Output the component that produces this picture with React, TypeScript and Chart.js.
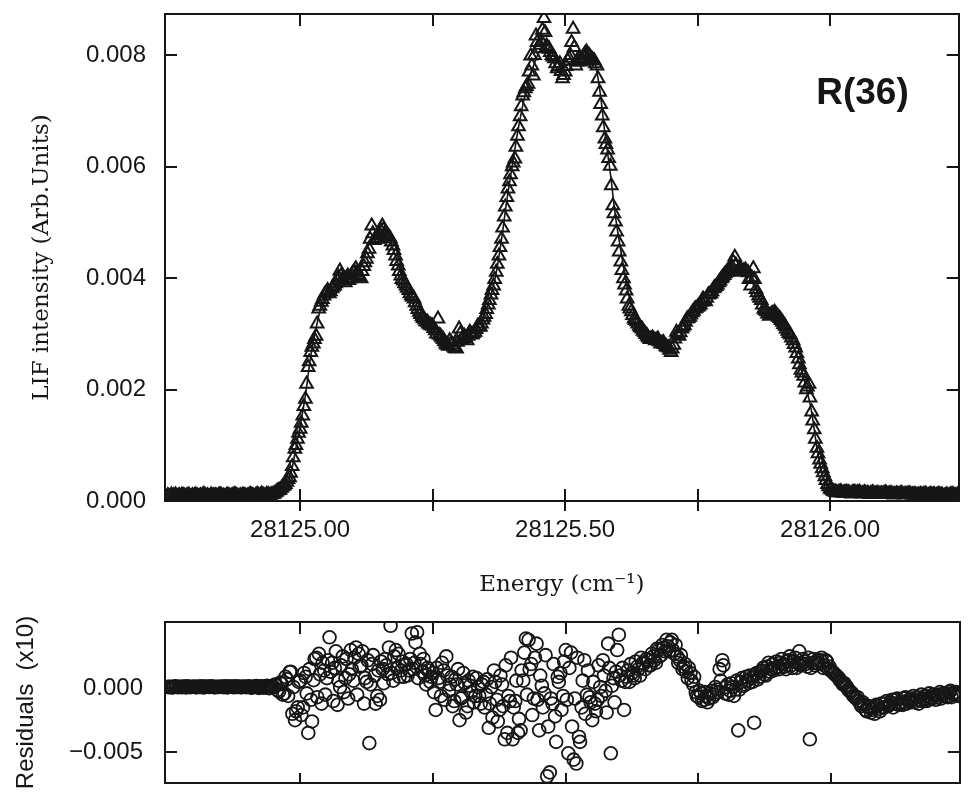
import React, { useEffect, useRef } from 'react';
import { Chart, registerables } from 'chart.js';

Chart.register(...registerables);

// ---------------- data (two scans, A and B, B read slightly above A) ----------------
const ENERGY_A = [
  28124.750, 28124.755, 28124.760, 28124.765, 28124.770, 28124.775, 28124.780, 28124.785, 28124.790, 28124.795,
  28124.800, 28124.805, 28124.810, 28124.815, 28124.820, 28124.825, 28124.830, 28124.835, 28124.840, 28124.845,
  28124.850, 28124.855, 28124.860, 28124.865, 28124.870, 28124.875, 28124.880, 28124.885, 28124.890, 28124.895,
  28124.900, 28124.905, 28124.910, 28124.915, 28124.920, 28124.925, 28124.930, 28124.935, 28124.940, 28124.945,
  28124.950, 28124.955, 28124.960, 28124.965, 28124.970, 28124.975, 28124.980, 28124.985, 28124.990, 28124.995,
  28125.000, 28125.005, 28125.010, 28125.015, 28125.020, 28125.025, 28125.030, 28125.035, 28125.040, 28125.045,
  28125.050, 28125.055, 28125.060, 28125.065, 28125.070, 28125.075, 28125.080, 28125.085, 28125.090, 28125.095,
  28125.100, 28125.105, 28125.110, 28125.115, 28125.120, 28125.125, 28125.130, 28125.135, 28125.140, 28125.145,
  28125.150, 28125.155, 28125.160, 28125.165, 28125.170, 28125.175, 28125.180, 28125.185, 28125.190, 28125.195,
  28125.200, 28125.205, 28125.210, 28125.215, 28125.220, 28125.225, 28125.230, 28125.235, 28125.240, 28125.245,
  28125.250, 28125.255, 28125.260, 28125.265, 28125.270, 28125.275, 28125.280, 28125.285, 28125.290, 28125.295,
  28125.300, 28125.305, 28125.310, 28125.315, 28125.320, 28125.325, 28125.330, 28125.335, 28125.340, 28125.345,
  28125.350, 28125.355, 28125.360, 28125.365, 28125.370, 28125.375, 28125.380, 28125.385, 28125.390, 28125.395,
  28125.400, 28125.405, 28125.410, 28125.415, 28125.420, 28125.425, 28125.430, 28125.435, 28125.440, 28125.445,
  28125.450, 28125.455, 28125.460, 28125.465, 28125.470, 28125.475, 28125.480, 28125.485, 28125.490, 28125.495,
  28125.500, 28125.505, 28125.510, 28125.515, 28125.520, 28125.525, 28125.530, 28125.535, 28125.540, 28125.545,
  28125.550, 28125.555, 28125.560, 28125.565, 28125.570, 28125.575, 28125.580, 28125.585, 28125.590, 28125.595,
  28125.600, 28125.605, 28125.610, 28125.615, 28125.620, 28125.625, 28125.630, 28125.635, 28125.640, 28125.645,
  28125.650, 28125.655, 28125.660, 28125.665, 28125.670, 28125.675, 28125.680, 28125.685, 28125.690, 28125.695,
  28125.700, 28125.705, 28125.710, 28125.715, 28125.720, 28125.725, 28125.730, 28125.735, 28125.740, 28125.745,
  28125.750, 28125.755, 28125.760, 28125.765, 28125.770, 28125.775, 28125.780, 28125.785, 28125.790, 28125.795,
  28125.800, 28125.805, 28125.810, 28125.815, 28125.820, 28125.825, 28125.830, 28125.835, 28125.840, 28125.845,
  28125.850, 28125.855, 28125.860, 28125.865, 28125.870, 28125.875, 28125.880, 28125.885, 28125.890, 28125.895,
  28125.900, 28125.905, 28125.910, 28125.915, 28125.920, 28125.925, 28125.930, 28125.935, 28125.940, 28125.945,
  28125.950, 28125.955, 28125.960, 28125.965, 28125.970, 28125.975, 28125.980, 28125.985, 28125.990, 28125.995,
  28126.000, 28126.005, 28126.010, 28126.015, 28126.020, 28126.025, 28126.030, 28126.035, 28126.040, 28126.045,
  28126.050, 28126.055, 28126.060, 28126.065, 28126.070, 28126.075, 28126.080, 28126.085, 28126.090, 28126.095,
  28126.100, 28126.105, 28126.110, 28126.115, 28126.120, 28126.125, 28126.130, 28126.135, 28126.140, 28126.145,
  28126.150, 28126.155, 28126.160, 28126.165, 28126.170, 28126.175, 28126.180, 28126.185, 28126.190, 28126.195,
  28126.200, 28126.205, 28126.210, 28126.215, 28126.220, 28126.225, 28126.230, 28126.235, 28126.240,
];

const SIGNAL_A = [
  .00010, .00008, .00009, .00011, .00009, .00008, .00010, .00009, .00011, .00008,
  .00009, .00010, .00008, .00009, .00011, .00010, .00008, .00009, .00010, .00009,
  .00011, .00009, .00008, .00010, .00009, .00011, .00010, .00008, .00009, .00010,
  .00009, .00011, .00010, .00009, .00012, .00010, .00011, .00009, .00012, .00011,
  .00012, .00016, .00019, .00023, .00027, .00034, .00042, .00062, .00093, .00111,
  .00129, .00153, .00183, .00240, .00267, .00282, .00296, .00345, .00357, .00368,
  .00375, .00372, .00381, .00386, .00395, .00413, .00398, .00392, .00404, .00399,
  .00410, .00417, .00405, .00399, .00421, .00434, .00452, .00494, .00468, .00470,
  .00478, .00494, .00480, .00476, .00471, .00458, .00440, .00422, .00404, .00395,
  .00386, .00378, .00368, .00363, .00350, .00339, .00331, .00325, .00321, .00316,
  .00314, .00306, .00327, .00296, .00290, .00282, .00278, .00284, .00276, .00273,
  .00309, .00290, .00296, .00288, .00303, .00298, .00303, .00314, .00312, .00325,
  .00335, .00352, .00370, .00386, .00411, .00440, .00470, .00510, .00545, .00573,
  .00600, .00614, .00655, .00690, .00727, .00740, .00748, .00799, .00763, .00835,
  .00812, .00825, .00866, .00817, .00811, .00800, .00794, .00776, .00785, .00758,
  .00770, .00790, .00800, .00847, .00781, .00795, .00788, .00799, .00806, .00800,
  .00794, .00790, .00781, .00734, .00691, .00650, .00630, .00601, .00530, .00501,
  .00465, .00429, .00399, .00377, .00350, .00340, .00327, .00322, .00314, .00309,
  .00302, .00296, .00290, .00293, .00288, .00291, .00282, .00285, .00278, .00275,
  .00267, .00280, .00303, .00296, .00309, .00315, .00327, .00330, .00338, .00345,
  .00348, .00352, .00363, .00358, .00370, .00372, .00381, .00385, .00392, .00399,
  .00405, .00411, .00415, .00420, .00438, .00411, .00418, .00412, .00415, .00410,
  .00386, .00417, .00380, .00368, .00360, .00345, .00340, .00332, .00336, .00339,
  .00333, .00328, .00321, .00314, .00305, .00298, .00288, .00275, .00255, .00235,
  .00224, .00200, .00210, .00160, .00128, .00095, .00074, .00058, .00044, .00030,
  .00022, .00018, .00016, .00015, .00017, .00014, .00016, .00015, .00013, .00016,
  .00014, .00016, .00013, .00015, .00014, .00012, .00015, .00013, .00014, .00012,
  .00013, .00015, .00012, .00014, .00011, .00013, .00012, .00014, .00011, .00012,
  .00013, .00011, .00012, .00010, .00012, .00011, .00013, .00010, .00012, .00011,
  .00010, .00012, .00011, .00009, .00011, .00010, .00012, .00010, .00011,
];

const RESIDUAL_A = [
  .00010, .00012, .00008, .00015, .00009, .00011, .00014, .00007, .00012, .00010,
  .00013, .00008, .00011, .00016, .00009, .00012, .00010, .00014, .00008, .00011,
  .00012, .00009, .00015, .00010, .00013, .00008, .00011, .00014, .00009, .00012,
  .00010, .00014, .00006, .00013, .00008, .00016, .00004, .00012, .00002, .00015,
  .00010, .00022, -.00025, .00035, -.00040, .00070, .00128, -.00200, -.00250, -.00150,
  .00060, -.00150, .00090, -.00350, -.00090, .00064, .00240, .00270, -.00120, .00140,
  .00080, .00400, .00200, .00160, -.00130, .00010, .00250, .00080, -.00080, .00300,
  .00060, .00320, .00270, .00180, -.00120, .00050, -.00430, .00190, .00100, -.00060,
  -.00090, .00150, .00230, .00110, .00490, .00060, .00300, .00270, .00140, .00090,
  .00190, .00140, .00430, .00200, .00440, .00270, .00130, .00100, .00160, .00050,
  .00120, -.00170, .00080, -.00060, .00140, .00250, -.00020, .00090, -.00100, .00030,
  -.00250, -.00070, .00040, -.00140, .00020, .00090, -.00060, .00010, -.00120, .00050,
  -.00050, -.00310, .00010, .00140, -.00090, -.00170, .00030, -.00400, -.00350, -.00100,
  -.00400, -.00100, -.00350, -.00330, .00060, .00390, .00380, .00190, -.00080, .00350,
  -.00330, .00020, -.00040, -.00690, -.00660, -.00120, -.00220, .00090, .00120, -.00060,
  .00300, -.00510, .00280, -.00560, -.00590, -.00380, -.00150, .00220, -.00050, -.00070,
  -.00250, -.00120, -.00090, .00010, .00220, -.00020, .00350, -.00510, .00080, .00130,
  .00420, .00060, -.00170, .00090, .00050, .00120, .00080, .00170, .00100, .00200,
  .00150, .00220, .00180, .00250, .00200, .00300, .00260, .00320, .00380, .00290,
  .00380, .00270, .00250, .00220, .00150, .00190, .00080, .00120, .00030, -.00030,
  -.00070, -.00040, -.00090, -.00060, -.00080, -.00020, -.00050, -.00010, .00150, .00220,
  -.00040, .00030, -.00020, .00010, -.00010, -.00330, .00050, .00020, .00090, .00040,
  .00080, -.00270, .00120, .00090, .00140, .00110, .00170, .00130, .00190, .00160,
  .00170, .00200, .00190, .00150, .00220, .00180, .00210, .00160, .00290, .00190,
  .00210, .00170, -.00400, .00200, .00180, .00220, .00220, .00160, .00220, .00150,
  .00140, .00120, .00100, .00080, .00050, .00040, .00010, -.00020, -.00040, -.00070,
  -.00070, -.00120, -.00110, -.00170, -.00140, -.00190, -.00150, -.00130, -.00160, -.00120,
  -.00150, -.00100, -.00130, -.00090, -.00120, -.00080, -.00110, -.00130, -.00070, -.00100,
  -.00110, -.00060, -.00090, -.00120, -.00050, -.00080, -.00100, -.00040, -.00080, -.00060,
  -.00070, -.00030, -.00060, -.00040, -.00070, -.00020, -.00050, -.00030, -.00060,
];

const ENERGY_B = [
  28124.752, 28124.757, 28124.762, 28124.767, 28124.772, 28124.777, 28124.782, 28124.787, 28124.792, 28124.797,
  28124.802, 28124.807, 28124.812, 28124.817, 28124.822, 28124.827, 28124.832, 28124.837, 28124.842, 28124.847,
  28124.852, 28124.857, 28124.862, 28124.867, 28124.872, 28124.877, 28124.882, 28124.887, 28124.892, 28124.897,
  28124.902, 28124.907, 28124.912, 28124.917, 28124.922, 28124.927, 28124.932, 28124.937, 28124.942, 28124.947,
  28124.952, 28124.957, 28124.962, 28124.967, 28124.972, 28124.977, 28124.982, 28124.987, 28124.992, 28124.997,
  28125.002, 28125.007, 28125.012, 28125.017, 28125.022, 28125.027, 28125.032, 28125.037, 28125.042, 28125.047,
  28125.052, 28125.057, 28125.062, 28125.067, 28125.072, 28125.077, 28125.082, 28125.087, 28125.092, 28125.097,
  28125.102, 28125.107, 28125.112, 28125.117, 28125.122, 28125.127, 28125.132, 28125.137, 28125.142, 28125.147,
  28125.152, 28125.157, 28125.162, 28125.167, 28125.172, 28125.177, 28125.182, 28125.187, 28125.192, 28125.197,
  28125.202, 28125.207, 28125.212, 28125.217, 28125.222, 28125.227, 28125.232, 28125.237, 28125.242, 28125.247,
  28125.252, 28125.257, 28125.262, 28125.267, 28125.272, 28125.277, 28125.282, 28125.287, 28125.292, 28125.297,
  28125.302, 28125.307, 28125.312, 28125.317, 28125.322, 28125.327, 28125.332, 28125.337, 28125.342, 28125.347,
  28125.352, 28125.357, 28125.362, 28125.367, 28125.372, 28125.377, 28125.382, 28125.387, 28125.392, 28125.397,
  28125.402, 28125.407, 28125.412, 28125.417, 28125.422, 28125.427, 28125.432, 28125.437, 28125.442, 28125.447,
  28125.452, 28125.457, 28125.462, 28125.467, 28125.472, 28125.477, 28125.482, 28125.487, 28125.492, 28125.497,
  28125.502, 28125.507, 28125.512, 28125.517, 28125.522, 28125.527, 28125.532, 28125.537, 28125.542, 28125.547,
  28125.552, 28125.557, 28125.562, 28125.567, 28125.572, 28125.577, 28125.582, 28125.587, 28125.592, 28125.597,
  28125.602, 28125.607, 28125.612, 28125.617, 28125.622, 28125.627, 28125.632, 28125.637, 28125.642, 28125.647,
  28125.652, 28125.657, 28125.662, 28125.667, 28125.672, 28125.677, 28125.682, 28125.687, 28125.692, 28125.697,
  28125.702, 28125.707, 28125.712, 28125.717, 28125.722, 28125.727, 28125.732, 28125.737, 28125.742, 28125.747,
  28125.752, 28125.757, 28125.762, 28125.767, 28125.772, 28125.777, 28125.782, 28125.787, 28125.792, 28125.797,
  28125.802, 28125.807, 28125.812, 28125.817, 28125.822, 28125.827, 28125.832, 28125.837, 28125.842, 28125.847,
  28125.852, 28125.857, 28125.862, 28125.867, 28125.872, 28125.877, 28125.882, 28125.887, 28125.892, 28125.897,
  28125.902, 28125.907, 28125.912, 28125.917, 28125.922, 28125.927, 28125.932, 28125.937, 28125.942, 28125.947,
  28125.952, 28125.957, 28125.962, 28125.967, 28125.972, 28125.977, 28125.982, 28125.987, 28125.992, 28125.997,
  28126.002, 28126.007, 28126.012, 28126.017, 28126.022, 28126.027, 28126.032, 28126.037, 28126.042, 28126.047,
  28126.052, 28126.057, 28126.062, 28126.067, 28126.072, 28126.077, 28126.082, 28126.087, 28126.092, 28126.097,
  28126.102, 28126.107, 28126.112, 28126.117, 28126.122, 28126.127, 28126.132, 28126.137, 28126.142, 28126.147,
  28126.152, 28126.157, 28126.162, 28126.167, 28126.172, 28126.177, 28126.182, 28126.187, 28126.192, 28126.197,
  28126.202, 28126.207, 28126.212, 28126.217, 28126.222, 28126.227, 28126.232, 28126.237,
];

const SIGNAL_B = [
  .00009, .00011, .00010, .00008, .00010, .00011, .00009, .00010, .00008, .00010,
  .00011, .00009, .00010, .00012, .00009, .00008, .00011, .00010, .00009, .00011,
  .00010, .00008, .00011, .00009, .00010, .00012, .00009, .00010, .00011, .00009,
  .00010, .00012, .00009, .00011, .00010, .00013, .00010, .00012, .00010, .00012,
  .00014, .00018, .00020, .00026, .00030, .00039, .00050, .00078, .00100, .00122,
  .00140, .00170, .00210, .00250, .00276, .00290, .00318, .00350, .00362, .00372,
  .00378, .00376, .00384, .00390, .00402, .00404, .00395, .00400, .00396, .00406,
  .00412, .00409, .00402, .00412, .00428, .00444, .00470, .00480, .00472, .00476,
  .00486, .00487, .00478, .00475, .00465, .00450, .00430, .00412, .00398, .00390,
  .00382, .00372, .00366, .00356, .00344, .00335, .00328, .00322, .00318, .00315,
  .00310, .00300, .00298, .00293, .00286, .00280, .00288, .00280, .00274, .00285,
  .00300, .00293, .00292, .00296, .00300, .00301, .00308, .00313, .00318, .00330,
  .00344, .00360, .00378, .00398, .00425, .00455, .00490, .00528, .00560, .00586,
  .00607, .00635, .00672, .00708, .00733, .00744, .00770, .00781, .00800, .00823,
  .00818, .00845, .00841, .00814, .00805, .00797, .00785, .00780, .00771, .00764,
  .00780, .00795, .00823, .00814, .00788, .00791, .00793, .00802, .00803, .00797,
  .00792, .00785, .00758, .00712, .00670, .00640, .00615, .00566, .00516, .00483,
  .00447, .00414, .00388, .00363, .00345, .00333, .00324, .00318, .00311, .00305,
  .00299, .00293, .00291, .00290, .00289, .00286, .00283, .00281, .00276, .00271,
  .00273, .00291, .00299, .00302, .00312, .00321, .00328, .00334, .00341, .00346,
  .00350, .00357, .00360, .00364, .00371, .00376, .00383, .00388, .00395, .00402,
  .00408, .00413, .00417, .00429, .00424, .00414, .00415, .00413, .00412, .00398,
  .00401, .00398, .00374, .00364, .00352, .00342, .00336, .00334, .00337, .00336,
  .00330, .00324, .00317, .00309, .00301, .00293, .00281, .00265, .00245, .00230,
  .00212, .00205, .00185, .00144, .00111, .00085, .00066, .00051, .00037, .00026,
  .00020, .00017, .00015, .00016, .00015, .00015, .00015, .00014, .00015, .00015,
  .00015, .00014, .00014, .00014, .00013, .00014, .00014, .00013, .00013, .00013,
  .00014, .00013, .00013, .00012, .00012, .00012, .00013, .00012, .00012, .00013,
  .00012, .00011, .00011, .00011, .00011, .00012, .00011, .00011, .00011, .00011,
  .00011, .00011, .00010, .00010, .00010, .00011, .00011, .00010,
];

const RESIDUAL_B = [
  .00011, .00006, .00013, .00010, .00012, .00008, .00011, .00015, .00009, .00012,
  .00009, .00014, .00010, .00007, .00013, .00011, .00016, .00009, .00012, .00010,
  .00014, .00011, .00007, .00013, .00010, .00015, .00012, .00008, .00013, .00009,
  .00016, .00005, .00012, .00018, .00003, .00014, .00009, .00020, .00001, .00011,
  .00030, -.00015, .00045, -.00050, .00090, -.00060, .00130, .00010, -.00180, .00050,
  -.00210, .00120, -.00040, .00150, -.00260, .00230, -.00070, .00110, .00200, -.00050,
  .00220, .00130, -.00100, .00290, .00060, .00180, -.00030, .00230, .00110, .00150,
  .00240, -.00050, .00170, .00290, .00080, .00220, .00030, .00260, -.00120, .00140,
  .00210, .00040, .00180, .00320, .00120, .00250, .00160, .00090, .00210, .00180,
  .00100, .00230, .00150, .00360, .00080, .00190, .00230, .00030, .00140, .00090,
  -.00030, .00160, .00050, .00200, -.00090, .00100, .00030, -.00140, .00070, .00150,
  -.00080, .00120, -.00190, .00060, -.00030, -.00110, .00080, -.00060, .00030, -.00150,
  .00070, -.00120, -.00230, .00050, -.00260, .00100, -.00140, .00180, -.00060, .00240,
  -.00150, .00060, -.00240, .00140, .00280, -.00050, .00150, -.00210, .00240, -.00090,
  .00100, -.00150, .00260, -.00300, -.00080, .00190, -.00420, .00050, -.00170, .00210,
  -.00090, .00160, -.00300, -.00080, .00240, -.00420, .00060, -.00200, .00140, -.00110,
  .00050, -.00180, .00180, -.00060, .00100, -.00190, .00160, .00020, -.00110, .00300,
  .00100, .00160, .00050, .00140, .00190, .00100, .00210, .00150, .00240, .00190,
  .00230, .00180, .00270, .00220, .00310, .00250, .00340, .00290, .00330, .00360,
  .00300, .00340, .00200, .00260, .00170, .00130, .00160, .00060, .00090, -.00060,
  -.00020, -.00100, -.00030, -.00110, -.00040, -.00070, .00010, -.00030, .00060, .00180,
  .00010, -.00050, .00040, -.00060, .00060, -.00010, .00080, .00030, .00060, .00100,
  .00050, .00110, .00070, .00130, .00160, .00100, .00200, .00150, .00140, .00210,
  .00150, .00230, .00170, .00210, .00250, .00160, .00240, .00200, .00180, .00230,
  .00190, .00240, .00160, .00230, .00200, .00190, .00240, .00180, .00210, .00170,
  .00130, .00110, .00090, .00060, .00030, .00020, -.00010, -.00030, -.00060, -.00080,
  -.00100, -.00140, -.00130, -.00180, -.00150, -.00170, -.00200, -.00140, -.00180, -.00150,
  -.00120, -.00140, -.00110, -.00150, -.00090, -.00130, -.00120, -.00080, -.00120, -.00090,
  -.00080, -.00110, -.00070, -.00090, -.00100, -.00060, -.00090, -.00070, -.00050, -.00090,
  -.00050, -.00080, -.00040, -.00060, -.00030, -.00070, -.00040, -.00050,
];

const FIT_ENERGY = [
  28124.750, 28124.940, 28124.955, 28124.970, 28124.980, 28124.985, 28124.990, 28124.995,
  28125.000, 28125.010, 28125.020, 28125.030, 28125.040, 28125.050, 28125.070, 28125.090,
  28125.110, 28125.130, 28125.150, 28125.165, 28125.180, 28125.200, 28125.220, 28125.240,
  28125.260, 28125.280, 28125.300, 28125.320, 28125.340, 28125.360, 28125.370, 28125.380,
  28125.390, 28125.400, 28125.410, 28125.420, 28125.430, 28125.440, 28125.455, 28125.470,
  28125.490, 28125.500, 28125.520, 28125.540, 28125.555, 28125.565, 28125.575, 28125.585,
  28125.595, 28125.605, 28125.620, 28125.640, 28125.660, 28125.690, 28125.710, 28125.730,
  28125.760, 28125.790, 28125.820, 28125.840, 28125.860, 28125.880, 28125.910, 28125.930,
  28125.950, 28125.965, 28125.975, 28125.985, 28125.995, 28126.010, 28126.240,
];
const FIT_SIGNAL = [
  .00010, .00010, .00015, .00028, .00045, .00060, .00085, .00110,
  .00135, .00190, .00260, .00310, .00350, .00370, .00390, .00400,
  .00420, .00460, .00480, .00475, .00440, .00380, .00340, .00310,
  .00290, .00280, .00290, .00300, .00320, .00370, .00410, .00470,
  .00540, .00600, .00660, .00710, .00750, .00780, .00810, .00800,
  .00770, .00780, .00790, .00800, .00790, .00740, .00660, .00590,
  .00510, .00450, .00370, .00320, .00290, .00280, .00290, .00310,
  .00350, .00390, .00420, .00410, .00380, .00340, .00320, .00280,
  .00220, .00160, .00095, .00050, .00025, .00016, .00012,
];

const X_TICKS = [28125.0, 28125.25, 28125.5, 28125.75, 28126.0];
const X_LABELED = [28125.0, 28125.5, 28126.0];
const Y_TICKS = [0, 0.002, 0.004, 0.006, 0.008];
const RES_TICKS = [-0.005, 0];
const X_RANGE = [28124.745, 28126.2425];
const Y_RANGE = [0, 0.00874];
const RES_RANGE = [-0.00743, 0.0052];
const LINE_LABEL = 'R(36)';
const LINE_LABEL_AT = [28126.061, 0.00730];
const Y_TITLE = 'LIF intensity (Arb.Units)';
const X_TITLE = 'Energy (cm\u207B\u00B9)';
const RES_TITLE = 'Residuals  (x10)';

// ---------------- styling ----------------
const INK = '#161616';
const SANS = "'Liberation Sans', Arial, Helvetica, sans-serif";
const SERIF = "'DejaVu Serif', 'Liberation Serif', serif";
const TICK_FONT = { family: SANS, size: 24 };

function fixedTicks(values: number[]) {
  return (scale: any) => {
    scale.ticks = values.map((v) => ({ value: v }));
  };
}
function fixSize(dim: 'width' | 'height', px: number) {
  return (scale: any) => {
    scale[dim] = px;
    scale.paddingTop = 0;
    scale.paddingBottom = 0;
    scale.paddingLeft = 0;
    scale.paddingRight = 0;
  };
}
function frameAxis(extra: any) {
  return {
    type: 'linear',
    ticks: { display: false },
    grid: { drawOnChartArea: false, color: INK, lineWidth: 2, tickLength: -12 },
    border: { display: true, color: INK, width: 2 },
    ...extra,
  };
}

const labelPlugin = {
  id: 'lineLabel',
  afterDatasetsDraw(chart: any) {
    const { ctx, scales } = chart;
    ctx.save();
    ctx.font = `bold 37px ${SANS}`;
    ctx.fillStyle = INK;
    ctx.textAlign = 'center';
    ctx.textBaseline = 'middle';
    ctx.fillText(
      LINE_LABEL,
      scales.x.getPixelForValue(LINE_LABEL_AT[0]),
      scales.y.getPixelForValue(LINE_LABEL_AT[1])
    );
    ctx.restore();
  },
};

const TOP_H = 610;
const BOT_H = 198;

export default function App() {
  const topRef = useRef<HTMLCanvasElement>(null);
  const botRef = useRef<HTMLCanvasElement>(null);

  useEffect(() => {
    const signalPts = [
      ...ENERGY_A.map((x, i) => ({ x, y: SIGNAL_A[i] })),
      ...ENERGY_B.map((x, i) => ({ x, y: SIGNAL_B[i] })),
    ];
    const resPts = [
      ...ENERGY_A.map((x, i) => ({ x, y: RESIDUAL_A[i] })),
      ...ENERGY_B.map((x, i) => ({ x, y: RESIDUAL_B[i] })),
    ];
    const fitPts = FIT_ENERGY.map((x, i) => ({ x, y: FIT_SIGNAL[i] }));

    const top = new Chart(topRef.current as HTMLCanvasElement, {
      type: 'scatter',
      data: {
        datasets: [
          {
            label: 'fit',
            data: fitPts,
            showLine: true,
            borderColor: INK,
            borderWidth: 1.6,
            pointRadius: 0,
            cubicInterpolationMode: 'monotone',
          } as any,
          {
            label: 'LIF',
            data: signalPts,
            pointStyle: 'triangle',
            pointRadius: 7.3,
            pointBorderWidth: 2,
            borderColor: INK,
            backgroundColor: 'rgba(0,0,0,0)',
          } as any,
        ],
      },
      options: {
        animation: false,
        responsive: false,
        events: [],
        layout: { padding: 0 },
        plugins: { legend: { display: false }, tooltip: { enabled: false } },
        scales: {
          x: {
            type: 'linear',
            position: 'bottom',
            min: X_RANGE[0],
            max: X_RANGE[1],
            afterBuildTicks: fixedTicks(X_TICKS),
            afterFit: fixSize('height', TOP_H - 501),
            ticks: {
              autoSkip: false,
              maxRotation: 0,
              padding: 5,
              color: INK,
              font: TICK_FONT,
              callback: (v: any) => (X_LABELED.includes(Number(v)) ? Number(v).toFixed(2) : ''),
            },
            grid: { drawOnChartArea: false, color: INK, lineWidth: 2, tickLength: 10 },
            border: { display: true, color: INK, width: 2 },
            title: {
              display: true,
              text: X_TITLE,
              color: INK,
              font: { family: SERIF, size: 23 },
              padding: { top: 0, bottom: 11 },
            },
          },
          x2: frameAxis({
            position: 'top',
            min: X_RANGE[0],
            max: X_RANGE[1],
            afterBuildTicks: fixedTicks(X_TICKS),
            afterFit: fixSize('height', 14),
          }),
          xin: frameAxis({
            axis: 'x',
            position: { y: 0 },
            min: X_RANGE[0],
            max: X_RANGE[1],
            afterBuildTicks: fixedTicks(X_TICKS),
            afterFit: fixSize('height', 0),
            border: { display: false },
          }),
          y: {
            type: 'linear',
            position: 'left',
            min: Y_RANGE[0],
            max: Y_RANGE[1],
            afterBuildTicks: fixedTicks(Y_TICKS),
            afterFit: fixSize('width', 165),
            ticks: {
              padding: 31,
              color: INK,
              font: TICK_FONT,
              callback: (v: any) => Number(v).toFixed(3),
            },
            grid: { drawOnChartArea: false, color: INK, lineWidth: 2, tickLength: -12 },
            border: { display: true, color: INK, width: 2 },
            title: {
              display: true,
              text: Y_TITLE,
              color: INK,
              font: { family: SERIF, size: 23 },
              padding: { top: 28, bottom: 0 },
            },
          },
          y2: frameAxis({
            position: 'right',
            min: Y_RANGE[0],
            max: Y_RANGE[1],
            afterBuildTicks: fixedTicks(Y_TICKS),
            afterFit: fixSize('width', 1),
          }),
        } as any,
      },
      plugins: [labelPlugin],
    });

    const bot = new Chart(botRef.current as HTMLCanvasElement, {
      type: 'scatter',
      data: {
        datasets: [
          {
            label: 'residuals',
            data: resPts,
            pointStyle: 'circle',
            pointRadius: 6.4,
            pointBorderWidth: 1.8,
            borderColor: INK,
            backgroundColor: 'rgba(0,0,0,0)',
          } as any,
        ],
      },
      options: {
        animation: false,
        responsive: false,
        events: [],
        layout: { padding: 0 },
        plugins: { legend: { display: false }, tooltip: { enabled: false } },
        scales: {
          x: frameAxis({
            position: 'bottom',
            min: X_RANGE[0],
            max: X_RANGE[1],
            afterBuildTicks: fixedTicks(X_TICKS),
            afterFit: fixSize('height', 15),
            grid: { drawOnChartArea: false, color: INK, lineWidth: 2, tickLength: -10 },
          }),
          x2: frameAxis({
            position: 'top',
            min: X_RANGE[0],
            max: X_RANGE[1],
            afterBuildTicks: fixedTicks(X_TICKS),
            afterFit: fixSize('height', 22),
          }),
          y: {
            type: 'linear',
            position: 'left',
            min: RES_RANGE[0],
            max: RES_RANGE[1],
            afterBuildTicks: fixedTicks(RES_TICKS),
            afterFit: fixSize('width', 165),
            ticks: {
              padding: 34,
              color: INK,
              font: TICK_FONT,
              callback: (v: any) => (Number(v) < 0 ? '\u2212' : '') + Math.abs(Number(v)).toFixed(3),
            },
            grid: { drawOnChartArea: false, color: INK, lineWidth: 2, tickLength: -12 },
            border: { display: true, color: INK, width: 2 },
            title: {
              display: true,
              text: RES_TITLE,
              color: INK,
              font: { family: SANS, size: 24 },
              padding: { top: 12, bottom: 0 },
            },
          },
          y2: frameAxis({
            position: 'right',
            min: RES_RANGE[0],
            max: RES_RANGE[1],
            afterBuildTicks: fixedTicks(RES_TICKS),
            afterFit: fixSize('width', 1),
          }),
        } as any,
      },
    });

    return () => {
      top.destroy();
      bot.destroy();
    };
  }, []);

  return (
    <div style={{ position: 'absolute', left: 0, top: 0, width: 968, height: 798, background: '#fff', overflow: 'hidden' }}>
      <canvas
        ref={topRef}
        width={968}
        height={TOP_H}
        style={{ position: 'absolute', left: 0, top: 0, width: 968, height: TOP_H }}
      />
      <canvas
        ref={botRef}
        width={968}
        height={BOT_H}
        style={{ position: 'absolute', left: 0, top: 600, width: 968, height: BOT_H }}
      />
    </div>
  );
}
